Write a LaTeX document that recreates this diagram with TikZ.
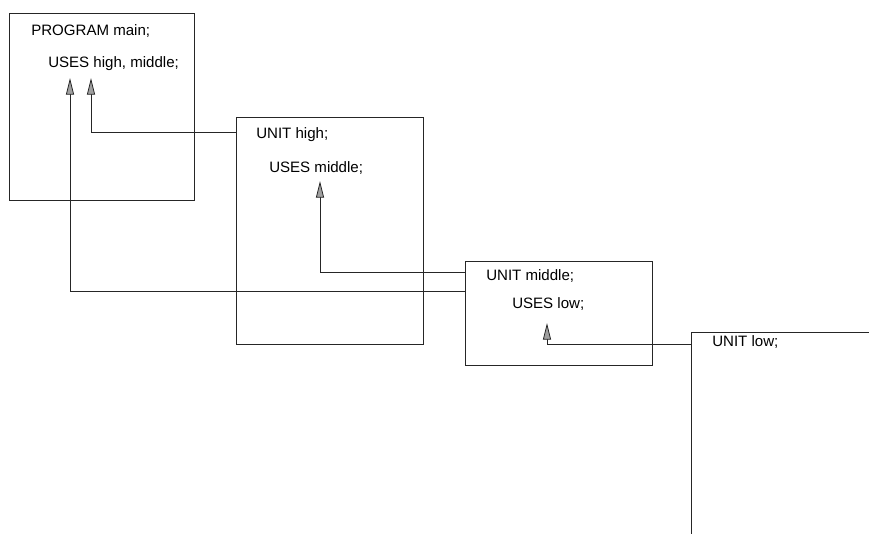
\documentclass[tikz,border=0pt]{standalone}
\usepackage{fontspec}
\setmainfont{Liberation Sans}
\usetikzlibrary{arrows.meta,fit}
\begin{document}
\begin{tikzpicture}[x=0.75pt,y=-0.75pt,
  box/.style={draw=black!85,line width=0.6pt,inner sep=0pt},
  lbl/.style={anchor=base west,inner sep=0pt,font=\fontsize{11.3}{13}\selectfont},
  arr/.style={draw=black!85,line width=0.6pt,-{Triangle[length=12.5pt,width=6pt,fill=gray!75]}}]
\useasboundingbox (0,0) rectangle (869,534);
% boxes
\node[box,fit={(9.5,13) (194,200)}] (main) {};
\node[box,fit={(236,117) (423,344)}] (high) {};
\node[box,fit={(465,261) (652,365)}] (middle) {};
\node[inner sep=0pt,fit={(692,333) (869,534)}] (low) {};
\draw[black!85,line width=0.6pt] (low.north east) -- (low.north west) -- (low.south west);
% texts
\node[lbl] (t1) at (31,36) {PROGRAM main;};
\node[lbl] (t2) at (48,68) {USES high, middle;};
\node[lbl] (t3) at (256,139) {UNIT high;};
\node[lbl] (t4) at (269,173) {USES middle;};
\node[lbl] (t5) at (486,281) {UNIT middle;};
\node[lbl] (t6) at (512,309) {USES low;};
\node[lbl] (t7) at (712,347) {UNIT low;};
% arrow tips
\coordinate (aHigh) at (91,78);
\coordinate (aMid) at (70,78);
\coordinate (aMid2) at (320,181);
\coordinate (aLow) at (547,323);
% connectors
\draw[arr] (high.north west) ++(0,16) -| (aHigh);
\draw[arr] (middle.north west) ++(0,31) -| (aMid);
\draw[arr] (middle.north west) ++(0,12) -| (aMid2);
\draw[arr] (low.north west) ++(0,12) -| (aLow);
\end{tikzpicture}
\end{document}
